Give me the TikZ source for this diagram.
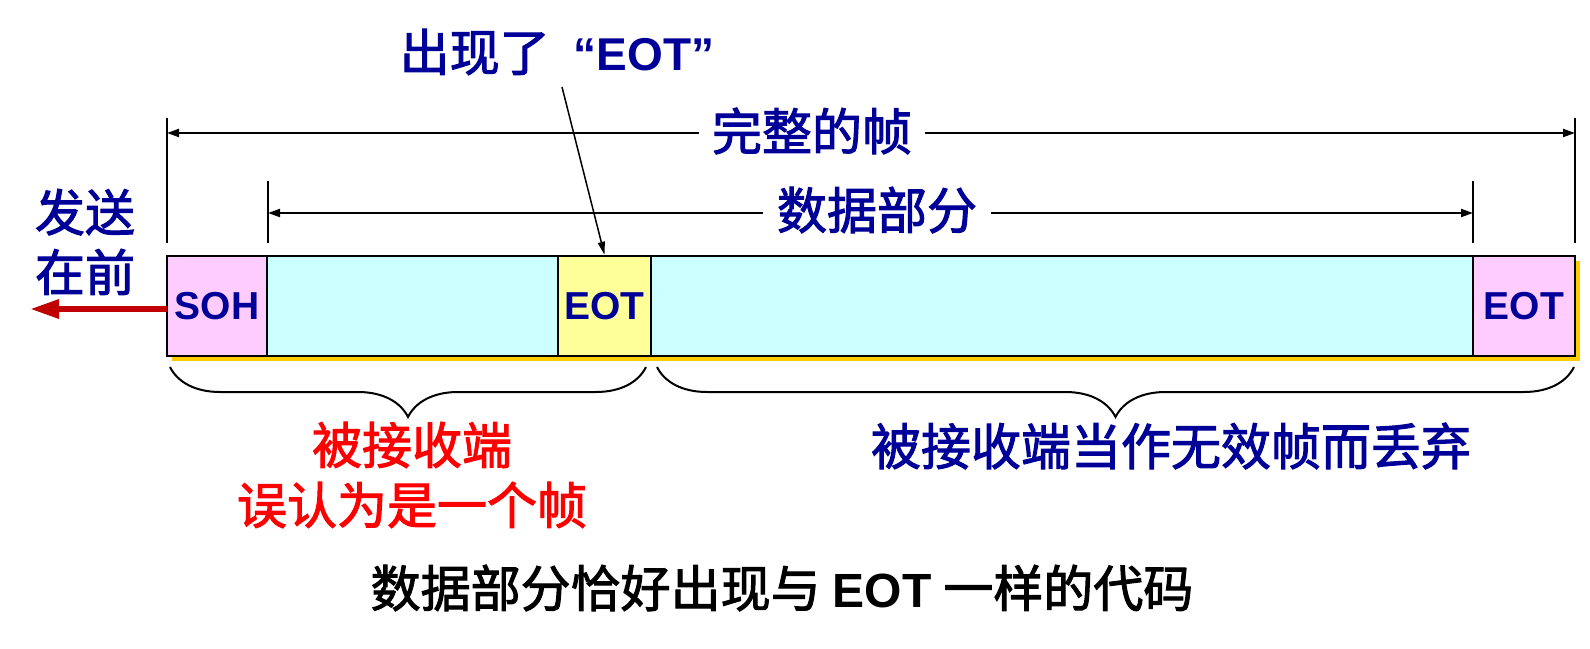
\documentclass[tikz,border=0pt]{standalone}
\usepackage{fontspec}
\setmainfont{Liberation Sans}
\newfontfamily\cjk[FakeBold=2]{Noto Sans CJK SC}
\usetikzlibrary{arrows.meta,decorations.pathreplacing}
\definecolor{txtblue}{RGB}{0,0,153}
\definecolor{pinkfill}{RGB}{255,204,255}
\definecolor{cyanfill}{RGB}{204,255,255}
\definecolor{yellowfill}{RGB}{255,255,153}
\definecolor{shadowgold}{RGB}{255,204,0}
\definecolor{arrowred}{RGB}{192,0,0}
\begin{document}
\begin{tikzpicture}[x=1pt,y=-1pt,
  cell/.style={draw=black,line width=2.5pt,minimum height=100pt,inner sep=0pt,
    font=\fontsize{39}{40}\selectfont\bfseries,text=txtblue},
  cjkfont/.style={font=\cjk\fontsize{50}{60}\selectfont},
  lbl/.style={cjkfont,text=txtblue,inner sep=0pt},
  tickline/.style={draw=black,line width=2pt},
  dimarrow/.style={draw=black,line width=2pt,-{Triangle[length=12pt,width=8pt]}},
  ptrarrow/.style={draw=black,line width=1.5pt,-{Triangle[length=13pt,width=7pt]}},
  bracestyle/.style={draw=black,line width=2pt,decorate,decoration={brace,mirror,amplitude=50pt}}
]
\useasboundingbox (0,0) rectangle (1590,648);
% shadow
\fill[shadowgold] (172,261) rectangle (1580,361);
% cells
\node[cell,fill=pinkfill,minimum width=100pt] (soh) at (217,306) {SOH};
\node[cell,fill=cyanfill,minimum width=291pt] (data1) at (412.5,306) {};
\node[cell,fill=yellowfill,minimum width=93pt] (eot1) at (604.5,306) {EOT};
\node[cell,fill=cyanfill,minimum width=822pt] (data2) at (1062,306) {};
\node[cell,fill=pinkfill,minimum width=102pt] (eot2) at (1524,306) {EOT};
% ticks
\coordinate (lt1) at (167,118); \coordinate (lb1) at (167,243);
\coordinate (rt1) at (1575,118); \coordinate (rb1) at (1575,243);
\coordinate (lt2) at (268,181); \coordinate (lb2) at (268,243);
\coordinate (rt2) at (1473,181); \coordinate (rb2) at (1473,243);
\draw[tickline] (lt1) -- (lb1);
\draw[tickline] (rt1) -- (rb1);
\draw[tickline] (lt2) -- (lb2);
\draw[tickline] (rt2) -- (rb2);
% full frame dimension
\node[lbl,inner xsep=13pt] (fullL) at (812,131) {完整的帧};
\coordinate (fa1) at (167,133); \coordinate (fa2) at (1575,133);
\draw[dimarrow] (fullL.west |- fa1) -- (fa1);
\draw[dimarrow] (fullL.east |- fa2) -- (fa2);
% data dimension
\node[lbl,inner xsep=14pt] (dataL) at (877,210) {数据部分};
\coordinate (da1) at (268,213); \coordinate (da2) at (1473,213);
\draw[dimarrow] (dataL.west |- da1) -- (da1);
\draw[dimarrow] (dataL.east |- da2) -- (da2);
% top label and pointer
\node[text=txtblue,inner sep=0pt] (topL) at (557,52)
  {{\cjk\fontsize{50}{60}\selectfont 出现了}\hspace{24pt}{\fontsize{46}{50}\selectfont\bfseries “EOT”}};
\coordinate (ps) at (562,87);
\draw[ptrarrow] (ps) -- (eot1.north);
% send first
\node[lbl,align=center] (send) at (85,242) {发送\\在前};
\coordinate (rs) at (167,309); \coordinate (re) at (30,309);
\draw[arrowred,line width=6pt,-{Triangle[length=29pt,width=18pt]}] (rs) -- (re);
% braces
\coordinate (b1s) at (170,367); \coordinate (b1e) at (646,367);
\coordinate (b2s) at (657,367); \coordinate (b2e) at (1574,367);
\draw[bracestyle] (b1s) -- (b1e);
\draw[bracestyle] (b2s) -- (b2e);
% labels under braces
\node[cjkfont,text=red,align=center,inner sep=0pt] (mis) at (412,475) {被接收端\\误认为是一个帧};
\node[lbl] (drop) at (1171,446) {被接收端当作无效帧而丢弃};
% caption
\node[inner sep=0pt,text=black] (cap) at (782,588)
  {{\cjk\fontsize{50}{60}\selectfont 数据部分恰好出现与}\hspace{12pt}{\fontsize{48}{50}\selectfont\bfseries EOT}\hspace{12pt}{\cjk\fontsize{50}{60}\selectfont 一样的代码}};
\end{tikzpicture}
\end{document}
